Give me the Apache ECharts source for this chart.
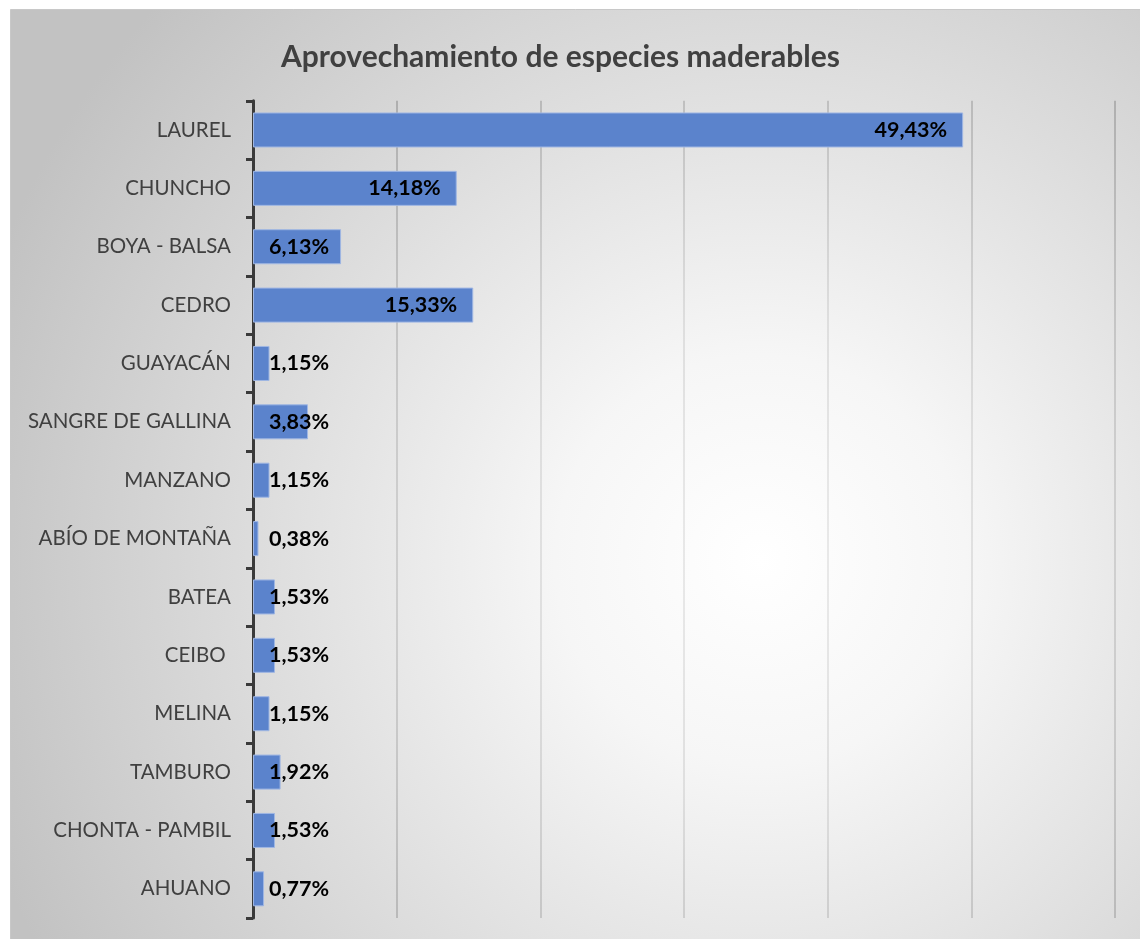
<!DOCTYPE html>
<html>
<head>
<meta charset="utf-8">
<script src="https://cdn.jsdelivr.net/npm/echarts@6/dist/echarts.min.js"></script>
<style>
html,body{margin:0;padding:0;background:#fff;}
#c{width:1140px;height:939px;}
</style>
</head>
<body>
<div id="c"></div>
<script>
var categories = ["LAUREL","CHUNCHO","BOYA - BALSA","CEDRO","GUAYACÁN","SANGRE DE GALLINA","MANZANO","ABÍO DE MONTAÑA","BATEA","CEIBO ","MELINA","TAMBURO","CHONTA - PAMBIL","AHUANO"];
var values = [49.43,14.18,6.13,15.33,1.15,3.83,1.15,0.38,1.53,1.53,1.15,1.92,1.53,0.77];
var titleText = "Aprovechamiento de especies maderables";

var FONT = "Lato";
var chart = echarts.init(document.getElementById('c'));

var data = values.map(function(v){
  var big = v >= 10;
  return {
    value: v,
    label: {
      position: big ? 'insideRight' : 'insideLeft',
      distance: 16
    }
  };
});

chart.setOption({
  animation: false,
  backgroundColor: '#ffffff',
  graphic: [{
    type: 'rect',
    z: -10,
    silent: true,
    shape: {x: 10.5, y: 9.5, width: 1140, height: 940},
    style: {
      fill: new echarts.graphic.RadialGradient(760, 560, 820, [
        {offset: 0, color: '#ffffff'},
        {offset: 0.25, color: '#f6f6f6'},
        {offset: 1, color: '#c2c2c2'}
      ], true),
      stroke: '#c8c8c8',
      lineWidth: 1
    }
  }],
  title: {
    text: titleText,
    left: 276,
    top: 37,
    textStyle: {fontFamily: FONT, fontSize: 30, fontWeight: 'bold', color: '#404040'}
  },
  grid: {left: 253, right: 25, top: 100.8, bottom: 21, containLabel: false},
  xAxis: {
    type: 'value',
    min: 0, max: 60, interval: 10,
    axisLabel: {show: false},
    axisLine: {show: false},
    axisTick: {show: false},
    splitLine: {
      show: true,
      lineStyle: {
        width: 2,
        color: new echarts.graphic.RadialGradient(760, 560, 820, [
          {offset: 0, color: '#ececec'},
          {offset: 0.3, color: '#dedede'},
          {offset: 1, color: '#8e8e8e'}
        ], true)
      }
    }
  },
  yAxis: {
    type: 'category',
    data: categories,
    inverse: true,
    axisLine: {show: true, lineStyle: {color: '#3a3a3a', width: 3}},
    axisTick: {show: true, length: 7, lineStyle: {color: '#3a3a3a', width: 3}},
    axisLabel: {fontFamily: FONT, fontSize: 20.5, color: '#404040', margin: 22}
  },
  series: [{
    type: 'bar',
    data: data,
    barCategoryGap: '40%',
    itemStyle: {color: '#5b83cc', borderColor: '#9fb6e3', borderWidth: 1},
    label: {
      show: true,
      fontFamily: FONT,
      fontSize: 21.5,
      fontWeight: 'bold',
      color: '#000000',
      formatter: function(p){ return p.value.toFixed(2).replace('.', ',') + '%'; }
    }
  }]
});
</script>
</body>
</html>
